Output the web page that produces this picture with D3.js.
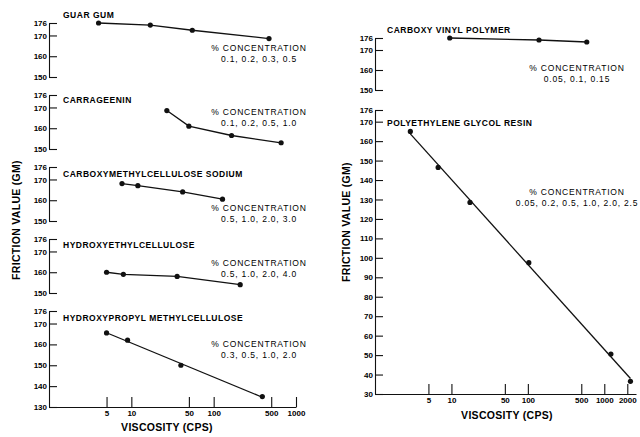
<!DOCTYPE html>
<html>
<head>
<meta charset="utf-8">
<script src="https://cdn.jsdelivr.net/npm/d3@7"></script>
<style>
body { margin: 0; background: #fff; }
svg text { font-family: "Liberation Sans", Arial, sans-serif; fill: #000; }
.tick text { font-size: 8px; font-weight: bold; }
.ptitle { font-size: 8.5px; font-weight: bold; letter-spacing: 0.5px; }
.conc { font-size: 8.5px; letter-spacing: 0.8px; }
.axtitle { font-size: 10.5px; font-weight: bold; letter-spacing: 0.3px; }
.domain, .tick line { stroke: #111; stroke-width: 1.1; }
</style>
</head>
<body>
<div id="chart"></div>
<script>

// Data (viscosity in cps, friction value in gm).
const guarVisc = [4, 17, 55, 470],
	guarFric = [176, 175, 172.5, 168.5];
const carrVisc = [27, 50, 165, 660],
	carrFric = [168.5, 161, 156.5, 153];
const cmcVisc = [7.7, 12, 42, 128],
	cmcFric = [168, 167, 164, 160.5];
const hecVisc = [5, 8, 36, 210],
	hecFric = [160, 159, 158, 154];
const hpmcVisc = [5, 9, 40, 390],
	hpmcFric = [165.5, 162, 150, 135];
const cvpVisc = [9.5, 140, 590],
	cvpFric = [176, 175, 174];
const pegVisc = [2.9, 6.7, 17.5, 103, 1220, 2200],
	pegFric = [165, 146.5, 128.5, 97.5, 50.5, 36.5];

// Labels
const names = ["GUAR  GUM", "CARRAGEENIN", "CARBOXYMETHYLCELLULOSE  SODIUM",
	"HYDROXYETHYLCELLULOSE", "HYDROXYPROPYL  METHYLCELLULOSE",
	"CARBOXY  VINYL  POLYMER", "POLYETHYLENE  GLYCOL  RESIN"];
const concs = ["0.1, 0.2, 0.3, 0.5", "0.1, 0.2, 0.5, 1.0", "0.5, 1.0, 2.0, 3.0",
	"0.5, 1.0, 2.0, 4.0", "0.3, 0.5, 1.0, 2.0", "0.05, 0.1, 0.15",
	"0.05, 0.2, 0.5, 1.0, 2.0, 2.5"];

// Tick values
const shortTicks = [176, 170, 160, 150],
	hpmcTicks = [176, 170, 160, 150, 140, 130],
	pegTicks = [176, 170, 160, 150, 140, 130, 120, 110, 100, 90, 80, 70, 60, 50, 40, 30],
	leftXTicks = [5, 10, 50, 100, 500, 1000],
	rightXTicks = [5, 10, 50, 100, 500, 1000, 2000];

const series = [
	[guarVisc, guarFric], [carrVisc, carrFric], [cmcVisc, cmcFric], [hecVisc, hecFric],
	[hpmcVisc, hpmcFric], [cvpVisc, cvpFric], [pegVisc, pegFric]
];

// Layout of each small panel: which side, y domain, pixel range, label offsets.
const layout = [
	{ side: 0, dom: [150, 176], top: 23, bot: 77, ticks: shortTicks, fit: false, tdy: -5, cdy: 28 },
	{ side: 0, dom: [150, 176], top: 95, bot: 149, ticks: shortTicks, fit: false, tdy: 8, cdy: 20 },
	{ side: 0, dom: [150, 176], top: 167, bot: 221, ticks: shortTicks, fit: false, tdy: 10, cdy: 44 },
	{ side: 0, dom: [150, 176], top: 239, bot: 293, ticks: shortTicks, fit: false, tdy: 9, cdy: 27 },
	{ side: 0, dom: [130, 176], top: 311, bot: 407, ticks: hpmcTicks, fit: true, tdy: 10, cdy: 36 },
	{ side: 1, dom: [150, 176], top: 38, bot: 90, ticks: shortTicks, fit: false, tdy: -5, cdy: 33 },
	{ side: 1, dom: [30, 176], top: 110, bot: 394, ticks: pegTicks, fit: true, tdy: 16, cdy: 85 }
];

const width = 640, height = 437;

let svg = d3.select("#chart").append("svg")
	.attr("width", width)
	.attr("height", height);

// x scales (log), one per side
const sides = [
	{ x0: 49, x: d3.scaleLog().domain([1, 1000]).range([49, 296]), ticks: leftXTicks, axisY: 407, cx: 259, tx: 63 },
	{ x0: 375, x: d3.scaleLog().domain([1, 2600]).range([375, 636]), ticks: rightXTicks, axisY: 394, cx: 577, tx: 387 }
];

// least squares in log10(x)
function fitLine(xs, ys) {
	const lx = xs.map(Math.log10),
		mx = d3.mean(lx), my = d3.mean(ys);
	const b = d3.sum(lx, (v, i) => (v - mx) * (ys[i] - my)) / d3.sum(lx, v => (v - mx) * (v - mx));
	const a = my - b * mx;
	const ends = [xs[0], xs[xs.length - 1]];
	return ends.map(v => [v, a + b * Math.log10(v)]);
}

layout.forEach(function(p, i) {
	const s = sides[p.side],
		x = s.x,
		y = d3.scaleLinear().domain(p.dom).range([p.bot, p.top]);

	// y axis
	svg.append("g")
		.attr("transform", "translate(" + s.x0 + ",0)")
		.call(d3.axisLeft(y)
			.tickValues(p.ticks)
			.tickSize(-8)
			.tickSizeOuter(0)
			.tickPadding(2));

	const pts = series[i][0].map((v, j) => [v, series[i][1][j]]);
	const linePts = p.fit ? fitLine(series[i][0], series[i][1]) : pts;

	svg.append("path")
		.datum(linePts)
		.attr("fill", "none")
		.attr("stroke", "#111")
		.attr("stroke-width", 1.3)
		.attr("d", d3.line().x(d => x(d[0])).y(d => y(d[1])));

	svg.append("g")
		.selectAll("circle")
		.data(pts)
		.join("circle")
		.attr("cx", d => x(d[0]))
		.attr("cy", d => y(d[1]))
		.attr("r", 2.6)
		.attr("fill", "#111");

	// panel name
	svg.append("text")
		.attr("class", "ptitle")
		.attr("x", s.tx)
		.attr("y", p.top + p.tdy)
		.text(names[i]);

	// concentration note
	svg.append("text")
		.attr("class", "conc")
		.attr("x", s.cx)
		.attr("y", p.top + p.cdy)
		.attr("text-anchor", "middle")
		.text("% CONCENTRATION");
	svg.append("text")
		.attr("class", "conc")
		.attr("x", s.cx)
		.attr("y", p.top + p.cdy + 10.5)
		.attr("text-anchor", "middle")
		.text(concs[i]);
});

// x axes
sides.forEach(function(s) {
	svg.append("g")
		.attr("transform", "translate(0," + s.axisY + ")")
		.call(d3.axisBottom(s.x)
			.tickValues(s.ticks)
			.tickFormat(d3.format("d"))
			.tickSize(-10)
			.tickSizeOuter(0)
			.tickPadding(3));
});

// axis titles
svg.append("text").attr("class", "axtitle")
	.attr("x", 167).attr("y", 431)
	.attr("text-anchor", "middle")
	.text("VISCOSITY  (CPS)");
svg.append("text").attr("class", "axtitle")
	.attr("x", 507).attr("y", 419)
	.attr("text-anchor", "middle")
	.text("VISCOSITY  (CPS)");
svg.append("text").attr("class", "axtitle")
	.attr("transform", "translate(20,220) rotate(-90)")
	.attr("text-anchor", "middle")
	.text("FRICTION VALUE (GM)");
svg.append("text").attr("class", "axtitle")
	.attr("transform", "translate(350,222) rotate(-90)")
	.attr("text-anchor", "middle")
	.text("FRICTION VALUE (GM)");

</script>
</body>
</html>
